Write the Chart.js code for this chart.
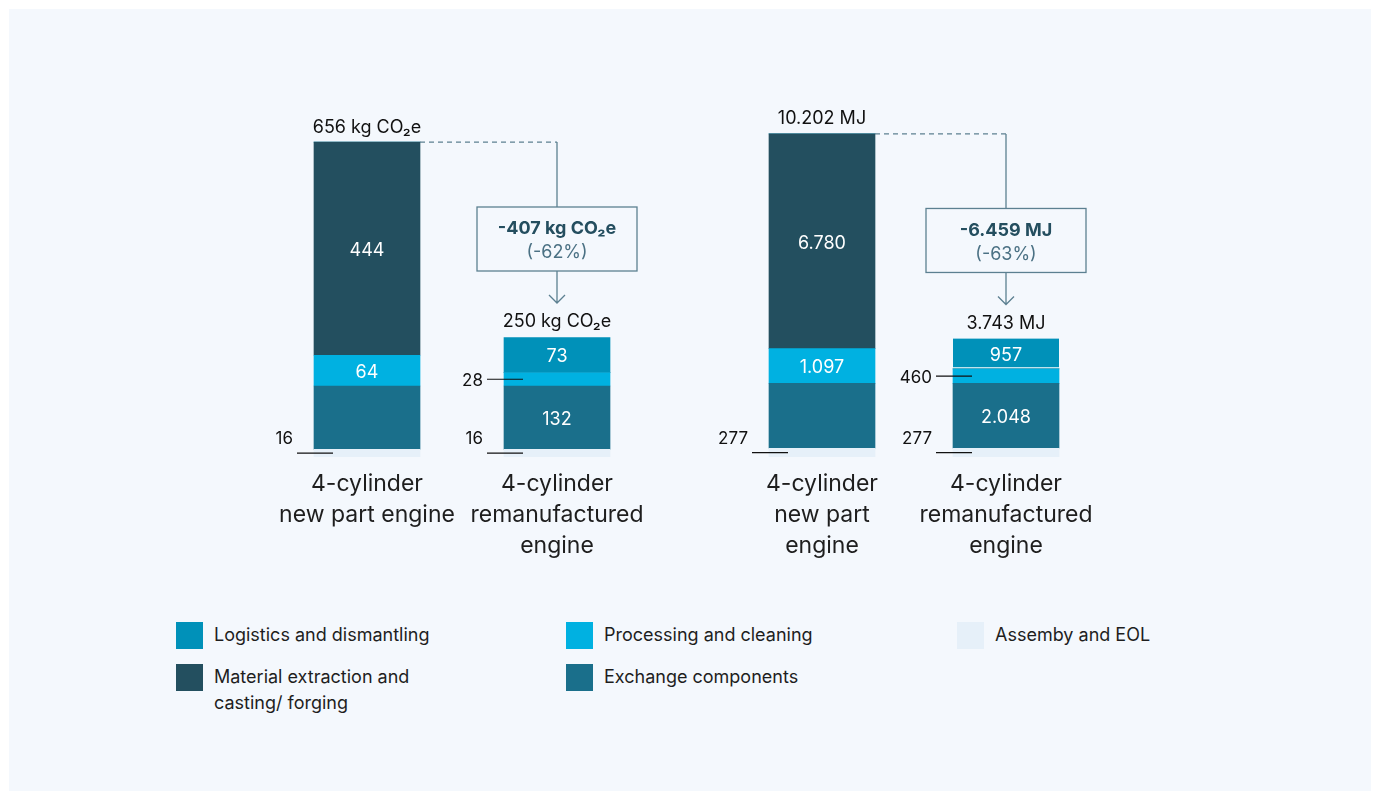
<!DOCTYPE html>
<html>
<head>
<meta charset="utf-8">
<title>Engine footprint</title>
<script src="https://cdn.jsdelivr.net/npm/chart.js@4.4.1/dist/chart.umd.min.js"></script>
<style>
  html, body { margin: 0; padding: 0; background: #fff; }
  body { width: 1376px; height: 792px; position: relative; overflow: hidden; font-family: Inter, "Noto Sans", sans-serif; }
  .panel { position: absolute; left: 9px; top: 9px; width: 1362px; height: 782px; background: #f4f8fd; }
  canvas { position: absolute; top: 0; }
  #co2Chart { left: 0; }
  #mjChart { left: 690px; }
  .legend { position: absolute; left: 176px; top: 622px; display: grid; grid-template-columns: 390px 391px 300px; row-gap: 15px; }
  .item { display: flex; align-items: flex-start; }
  .swatch { width: 27px; height: 27px; margin-right: 11px; flex: none; }
  .text { font-size: 18px; line-height: 26px; color: #1e1e1e; white-space: nowrap; }
  .text.wrap { white-space: normal; max-width: 215px; }
</style>
</head>
<body>
<div class="panel"></div>
<canvas id="co2Chart" width="690" height="620"></canvas>
<canvas id="mjChart" width="686" height="620"></canvas>
<div class="legend" id="legend"></div>

<script>
// categories (tick labels)
const co2Categories = [['4-cylinder', 'new part engine'], ['4-cylinder', 'remanufactured', 'engine']];
const mjCategories = [['4-cylinder', 'new part', 'engine'], ['4-cylinder', 'remanufactured', 'engine']];

// stack order, bottom to top
const seriesNames = ['Assemby and EOL', 'Exchange components', 'Processing and cleaning',
  'Material extraction and casting/ forging', 'Logistics and dismantling'];
const seriesColors = ['#e6f0f9', '#1a6f8b', '#00b1e1', '#234f5f', '#0091b9'];

// kg CO2e
const co2EOL = [16, 16];
const co2Exchange = [132, 132];
const co2Processing = [64, 28];
const co2Material = [444, 0];
const co2Logistics = [0, 73];
const co2Totals = [656, 250];
const co2Change = -407;
const co2ChangePct = -62;

// MJ
const mjEOL = [277, 277];
const mjExchange = [2048, 2048];
const mjProcessing = [1097, 460];
const mjMaterial = [6780, 0];
const mjLogistics = [0, 957];
const mjTotals = [10202, 3743];
const mjChange = -6459;
const mjChangePct = -63;

// legend grid, row by row
const legendOrder = [4, 2, 0, 3, 1];

// per series / per bar: value written inside the segment, or on a leader line to the left (dy = text offset)
const insideLabel = [[false, false], [false, true], [true, false], [true, false], [false, true]];
const leaderLabel = [[-14, -14], [null, null], [null, 2], [null, null], [null, null]];

const LINE = '#5c8091';
const fmt = v => String(Math.abs(v)).replace(/\B(?=(\d{3})+(?!\d))/g, '.');
const sign = v => (v < 0 ? '-' : '') + fmt(v);

const annotations = {
  id: 'annotations',
  afterDatasetsDraw(chart, args, opts) {
    const ctx = chart.ctx;
    const ys = chart.scales.y;
    ctx.save();
    ctx.textBaseline = 'middle';

    chart.data.datasets.forEach((ds, i) => {
      chart.getDatasetMeta(i).data.forEach((bar, j) => {
        if (!ds.data[j]) return;
        const mid = (bar.y + bar.base) / 2;
        const left = bar.x - bar.width / 2;
        if (insideLabel[i][j]) {
          ctx.fillStyle = '#ffffff';
          ctx.font = '18px Inter';
          ctx.textAlign = 'center';
          ctx.fillText(fmt(ds.data[j]), bar.x, mid + 2);
        }
        const dy = leaderLabel[i][j];
        if (dy !== null) {
          ctx.strokeStyle = '#111';
          ctx.lineWidth = 1.2;
          ctx.beginPath();
          ctx.moveTo(left - 17, mid);
          ctx.lineTo(left + 19, mid);
          ctx.stroke();
          ctx.fillStyle = '#111';
          ctx.font = '17px Inter';
          ctx.textAlign = 'right';
          ctx.fillText(fmt(ds.data[j]), left - 21, mid + dy);
        }
      });
    });

    // totals above the bars
    const bars = chart.getDatasetMeta(0).data;
    ctx.fillStyle = '#111';
    ctx.font = '18px Inter';
    ctx.textAlign = 'center';
    opts.totals.forEach((t, j) => {
      ctx.fillText(fmt(t) + ' ' + opts.unit, bars[j].x, ys.getPixelForValue(t) - 15);
    });

    // connector from the new part bar to the remanufactured one
    const a = bars[0], b = bars[1];
    const connY = ys.getPixelForValue(opts.totals[0]);
    const tipY = ys.getPixelForValue(opts.totals[1]) - 34;
    const boxH = 64, boxW = 160;
    const boxC = tipY - 64;
    ctx.strokeStyle = LINE;
    ctx.lineWidth = 1.3;
    ctx.setLineDash([5, 4]);
    ctx.beginPath();
    ctx.moveTo(a.x + a.width / 2, connY);
    ctx.lineTo(b.x, connY);
    ctx.stroke();
    ctx.setLineDash([]);
    ctx.beginPath();
    ctx.moveTo(b.x, connY);
    ctx.lineTo(b.x, boxC - boxH / 2);
    ctx.moveTo(b.x, boxC + boxH / 2);
    ctx.lineTo(b.x, tipY);
    ctx.moveTo(b.x - 8, tipY - 8);
    ctx.lineTo(b.x, tipY);
    ctx.lineTo(b.x + 8, tipY - 8);
    ctx.stroke();
    ctx.fillStyle = '#f4f8fd';
    ctx.fillRect(b.x - boxW / 2, boxC - boxH / 2, boxW, boxH);
    ctx.strokeRect(b.x - boxW / 2, boxC - boxH / 2, boxW, boxH);
    ctx.textAlign = 'center';
    ctx.fillStyle = '#244e5f';
    ctx.font = 'bold 18px Inter';
    ctx.fillText(sign(opts.change) + ' ' + opts.unit, b.x, boxC - 10);
    ctx.fillStyle = '#4b7184';
    ctx.font = '18px Inter';
    ctx.fillText('(' + sign(opts.changePct) + '%)', b.x, boxC + 14);
    ctx.restore();
  }
};

function makeChart(id, labels, values, totals, unit, change, changePct, yMax, padding, gapBelowTop) {
  const datasets = values.map((data, i) => {
    const ds = {
      label: seriesNames[i],
      data: data,
      backgroundColor: seriesColors[i],
      barThickness: 106,
      borderWidth: 0
    };
    if (gapBelowTop && i === 4) {
      ds.borderWidth = { top: 0, left: 0, right: 0, bottom: 2 };
      ds.borderColor = '#ffffff';
      ds.borderSkipped = false;
    }
    return ds;
  });
  return new Chart(document.getElementById(id), {
    type: 'bar',
    data: { labels: labels, datasets: datasets },
    plugins: [annotations],
    options: {
      responsive: false,
      animation: false,
      layout: { padding: padding },
      plugins: {
        legend: { display: false },
        tooltip: { enabled: false },
        annotations: { totals, unit, change, changePct }
      },
      scales: {
        x: {
          stacked: true,
          grid: { display: false, drawTicks: false },
          border: { display: false },
          ticks: { color: '#1e1e1e', padding: 12, font: { family: 'Inter', size: 23, lineHeight: '31px' } },
          afterFit: s => { s.height = 120; }
        },
        y: { stacked: true, display: false, min: 0, max: yMax }
      }
    }
  });
}

makeChart('co2Chart', co2Categories,
  [co2EOL, co2Exchange, co2Processing, co2Material, co2Logistics],
  co2Totals, 'kg CO₂e', co2Change, co2ChangePct, 800,
  { left: 272, right: 38, top: 73, bottom: 43 }, false);

makeChart('mjChart', mjCategories,
  [mjEOL, mjExchange, mjProcessing, mjMaterial, mjLogistics],
  mjTotals, 'MJ', mjChange, mjChangePct, 12000,
  { left: 40, right: 278, top: 77, bottom: 43 }, true);

// legend
const legend = document.getElementById('legend');
legendOrder.forEach(i => {
  const item = document.createElement('div');
  item.className = 'item';
  const sw = document.createElement('span');
  sw.className = 'swatch';
  sw.style.background = seriesColors[i];
  const tx = document.createElement('span');
  tx.className = seriesNames[i].length > 30 ? 'text wrap' : 'text';
  tx.textContent = seriesNames[i];
  item.appendChild(sw);
  item.appendChild(tx);
  legend.appendChild(item);
});
</script>
</body>
</html>
